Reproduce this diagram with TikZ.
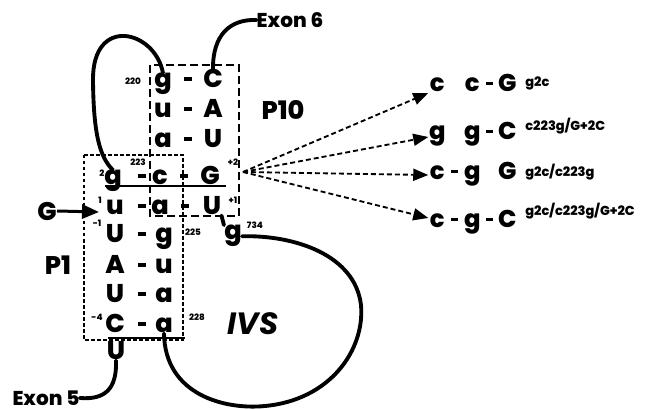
\documentclass[tikz,border=0pt]{standalone}
\usepackage{fontspec}
\setmainfont{Poppins}
\newfontfamily\heavy{Poppins ExtraBold}
\usetikzlibrary{arrows.meta}

\newcommand{\nslot}[1]{\makebox[0.35cm]{#1}}
\newcommand{\bond}{\rule[0.14cm]{0.16cm}{0.075cm}}
\newcommand{\sbond}{\rule[0.13cm]{0.14cm}{0.07cm}}

\begin{document}
\begin{tikzpicture}[scale=1.0,
  nt/.style={font=\fontsize{14.6}{16}\selectfont\heavy, inner sep=0pt, anchor=base},
  mt/.style={font=\fontsize{13.8}{15}\selectfont\heavy, inner sep=0pt, anchor=base west},
  num/.style={font=\fontsize{5}{6}\selectfont\heavy, inner sep=0pt},
  supl/.style={font=\fontsize{7.4}{8}\selectfont\heavy, inner sep=0pt, anchor=base west},
  lbl/.style={font=\fontsize{14.5}{16}\selectfont\heavy, inner sep=0pt},
  exon/.style={font=\fontsize{11.4}{13}\selectfont\heavy, inner sep=0pt},
  strand/.style={line width=2.2pt, line cap=round},
  mut/.style={line width=1.05pt, dash pattern=on 0.1cm off 0.06cm,
    -{Triangle[length=0.3cm,width=0.24cm]}},
]
\useasboundingbox (0,0) rectangle (12.92,8.2);

% P10 strand (intron 3' end and exon 6)
\node[nt] (a1) at (3.26,6.44) {g};
\node[nt] (m1) at (3.76,6.44) {\bond};
\node[nt] (b1) at (4.26,6.44) {C};
\node[nt] (a2) at (3.26,5.84) {u};
\node[nt] (m2) at (3.76,5.84) {\bond};
\node[nt] (b2) at (4.26,5.84) {A};
\node[nt] (a3) at (3.26,5.24) {a};
\node[nt] (m3) at (3.76,5.24) {\bond};
\node[nt] (b3) at (4.26,5.24) {U};
% shared rows
\node[nt] (a4) at (2.26,4.50) {g};
\node[nt] (m4) at (2.84,4.50) {\bond};
\node[nt] (b4) at (3.20,4.50) {c};
\node[nt] (n4) at (3.68,4.50) {\bond};
\node[nt] (c4) at (4.20,4.50) {G};
\node[nt] (a5) at (2.30,3.90) {u};
\node[nt] (m5) at (2.84,3.90) {\bond};
\node[nt] (b5) at (3.20,3.90) {a};
\node[nt] (n5) at (3.70,3.90) {\bond};
\node[nt] (c5) at (4.24,3.90) {U};
% P1 helix
\node[nt] (a6) at (2.30,3.34) {U};
\node[nt] (m6) at (2.84,3.34) {\bond};
\node[nt] (b6) at (3.28,3.34) {g};
\node[nt] (a7) at (2.30,2.72) {A};
\node[nt] (m7) at (2.84,2.72) {\bond};
\node[nt] (b7) at (3.28,2.72) {u};
\node[nt] (a8) at (2.30,2.14) {U};
\node[nt] (m8) at (2.84,2.14) {\bond};
\node[nt] (b8) at (3.28,2.14) {a};
\node[nt] (a9) at (2.30,1.54) {C};
\node[nt] (m9) at (2.84,1.54) {\bond};
\node[nt] (b9) at (3.28,1.54) {a};
\node[nt] (a10) at (2.32,1.00) {U};
\node[nt] (g734) at (4.66,3.40) {g};

% helix boxes
\draw[line width=1.1pt, dash pattern=on 0.16cm off 0.08cm] (3.00,6.90) rectangle (4.78,3.88);
\draw[line width=0.9pt, dash pattern=on 0.07cm off 0.05cm] (1.68,5.10) rectangle (3.66,1.40);
\draw[line width=1.4pt] (2.10,4.48) -- (4.52,4.48);
\draw[line width=1.6pt] (2.16,1.44) -- (3.70,1.44);

% position numbers
\node[num] (n220) at (2.66,6.58) {220};
\node[num] (n223) at (2.76,4.96) {223};
\node[num] (n2) at (2.04,4.74) {2};
\node[num] (np2) at (4.66,4.96) {+2};
\node[num] (n1) at (2.00,4.20) {1};
\node[num] (np1) at (4.66,4.20) {+1};
\node[num] (nm1) at (1.94,3.74) {-1};
\node[num] (n225) at (3.86,3.56) {225};
\node[num] (n734) at (5.10,3.70) {734};
\node[num] (nm4) at (1.94,1.86) {-4};
\node[num] (n228) at (3.94,1.86) {228};

% labels
\node[lbl] (p10) at (5.66,6.00) {P10};
\node[lbl] (p1) at (1.16,2.90) {P1};
\node[font=\fontsize{17.5}{19}\selectfont\bfseries\itshape, inner sep=0pt] (ivs) at (5.06,1.72) {IVS};
\node[exon] (ex6) at (5.80,7.80) {Exon 6};
\node[exon] (ex5) at (0.92,0.24) {Exon 5};
\node[lbl] (gin) at (0.94,3.98) {G};
\coordinate (tipg) at (1.98,3.96);

% backbone connections
\draw[strand] (a1.north) .. controls (3.1,7.6) and (1.85,7.9) .. (1.86,6.6)
  .. controls (1.87,5.5) and (2.0,5.05) .. (a4.north);
\draw[strand] (b1.north) .. controls (4.25,7.5) and (4.6,7.82) .. (ex6.west);
\draw[strand] (a10.south) .. controls (2.34,0.42) and (2.1,0.2) .. (ex5.east);
\draw[strand] (c5.south east) -- (g734.north west);
\draw[strand] (b9.south) .. controls (3.3,0.3) and (4.5,0.0) .. (5.3,0.08)
  .. controls (6.6,0.2) and (7.3,1.2) .. (7.22,2.1)
  .. controls (7.1,3.1) and (5.9,3.5) .. (g734.east);
\draw[line width=1.7pt, -{Triangle[length=0.34cm,width=0.28cm]}] (gin.east) -- (tipg);

% mutant pairs
\coordinate (fan) at (4.86,4.76);
\node[mt] (mr1) at (8.565,6.36) {\nslot{c}\nslot{}\nslot{c}\nslot{\sbond}\nslot{G}};
\node[supl] (s1) at (10.50,6.46) {g2c};
\node[mt] (mr2) at (8.565,5.40) {\nslot{g}\nslot{}\nslot{g}\nslot{\sbond}\nslot{C}};
\node[supl] (s2) at (10.50,5.58) {c223g/G+2C};
\node[mt] (mr3) at (8.565,4.60) {\nslot{c}\nslot{\sbond}\nslot{g}\nslot{}\nslot{G}};
\node[supl] (s3) at (10.50,4.66) {g2c/c223g};
\node[mt] (mr4) at (8.565,3.64) {\nslot{c}\nslot{\sbond}\nslot{g}\nslot{\sbond}\nslot{C}};
\node[supl] (s4) at (10.50,3.88) {g2c/c223g/G+2C};
\draw[mut] (fan) -- ([yshift=-0.02cm]mr1.base west);
\draw[mut] (fan) -- ([yshift=0.06cm]mr2.base west);
\draw[mut] (fan) -- ([yshift=0.1cm]mr3.base west);
\draw[mut] (fan) -- ([yshift=0.2cm]mr4.base west);
\end{tikzpicture}
\end{document}
